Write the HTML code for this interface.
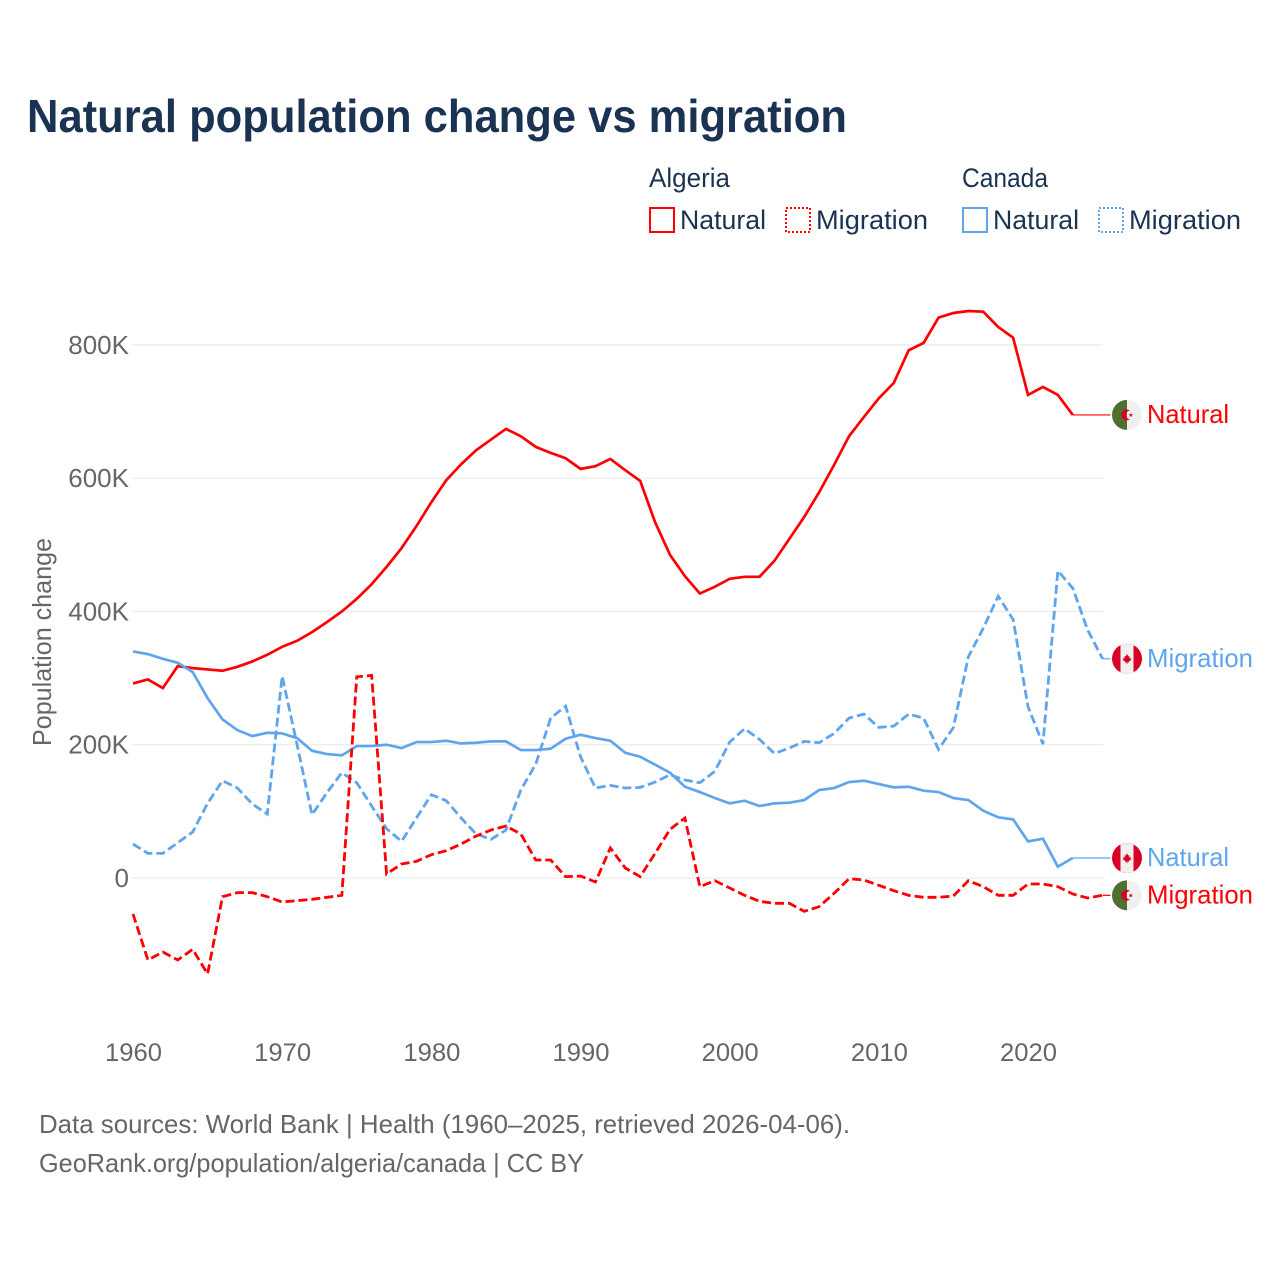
<!DOCTYPE html>
<html lang="en">
<head>
<meta charset="utf-8">
<title>Natural population change vs migration</title>
<style>
html,body{margin:0;padding:0;background:#fff;}
svg{display:block;font-family:"Liberation Sans",sans-serif;}
</style>
</head>
<body>
<svg id="chart" xmlns="http://www.w3.org/2000/svg" width="1280" height="1280" viewBox="0 0 1280 1280">
  <rect x="0" y="0" width="1280" height="1280" fill="#ffffff"/>
  <text x="27" y="132" font-size="46" font-weight="700" fill="#1a3352" textLength="820" lengthAdjust="spacingAndGlyphs">Natural population change vs migration</text>

  <g font-size="27" fill="#1a3352">
    <text x="649" y="187" textLength="81" lengthAdjust="spacingAndGlyphs">Algeria</text>
    <text x="962" y="187" textLength="86" lengthAdjust="spacingAndGlyphs">Canada</text>
    <g>
      <rect x="650" y="208" width="24" height="24" fill="none" stroke="#ff0000" stroke-width="2"/>
      <text x="680" y="229" textLength="86" lengthAdjust="spacingAndGlyphs">Natural</text>
    </g>
    <g>
      <rect x="786" y="208" width="24" height="24" fill="none" stroke="#ff0000" stroke-width="2" stroke-dasharray="2 2"/>
      <text x="816" y="229" textLength="112" lengthAdjust="spacingAndGlyphs">Migration</text>
    </g>
    <g>
      <rect x="963" y="208" width="24" height="24" fill="none" stroke="#5fa5ec" stroke-width="2"/>
      <text x="993" y="229" textLength="86" lengthAdjust="spacingAndGlyphs">Natural</text>
    </g>
    <g>
      <rect x="1099" y="208" width="24" height="24" fill="none" stroke="#5fa5ec" stroke-width="2" stroke-dasharray="2 2"/>
      <text x="1129" y="229" textLength="112" lengthAdjust="spacingAndGlyphs">Migration</text>
    </g>
  </g>

  <g id="grid"></g>
  <g id="yAxis"></g>
  <g id="xAxis"></g>
  <text transform="translate(51,642) rotate(-90)" text-anchor="middle" font-size="26" fill="#666666" textLength="208" lengthAdjust="spacingAndGlyphs">Population change</text>
  <g id="series"></g>
  <g id="ends"></g>

  <text x="39" y="1133" font-size="26" fill="#666666" textLength="811" lengthAdjust="spacingAndGlyphs">Data sources: World Bank | Health (1960–2025, retrieved 2026-04-06).</text>
  <text x="39" y="1172" font-size="26" fill="#666666" textLength="545" lengthAdjust="spacingAndGlyphs">GeoRank.org/population/algeria/canada | CC BY</text>
</svg>
<script>
// Values in thousands, one per year starting at 1960
const startYear = 1960;
const algeriaNatural = [292,298,285,318,315,313,311,317,325,335,347,356,369,384,400,419,441,467,495,528,564,597,621,642,658,674,663,647,638,630,614,618,629,612,596,534,485,453,427,437,449,452,452,476,509,542,579,620,663,692,720,743,792,803,841,848,851,850,827,811,725,737,725,695];
const algeriaMigration = [-54,-123,-111,-123,-107,-144,-28,-22,-22,-28,-36,-34,-32,-29,-26,302,304,6,21,25,35,41,51,63,72,78,66,27,27,2,3,-6,45,15,2,37,73,90,-13,-4,-15,-26,-35,-38,-38,-50,-43,-23,-1,-3,-11,-19,-26,-29,-29,-27,-4,-13,-26,-26,-9,-9,-13,-24,-30,-26];
const canadaNatural = [340,336,329,323,309,270,238,222,213,218,217,210,191,186,184,198,198,200,195,204,204,206,202,203,205,205,192,192,194,209,215,210,206,188,182,170,158,137,129,120,112,116,108,112,113,117,132,135,144,146,141,136,137,131,129,120,117,101,91,88,55,59,17,30];
const canadaMigration = [51,37,37,53,69,112,146,135,111,96,303,200,95,128,158,143,108,74,55,90,125,116,90,66,58,72,132,171,240,258,182,135,139,135,136,144,155,147,143,160,204,224,208,187,195,205,203,217,240,246,226,228,246,240,193,226,332,375,423,388,257,201,461,435,372,329];
const yTickValues = [0,200,400,600,800];
const yTickLabels = ["0","200K","400K","600K","800K"];
const xTickValues = [1960,1970,1980,1990,2000,2010,2020];
const xTickLabels = ["1960","1970","1980","1990","2000","2010","2020"];
const seriesNames = ["algeria-natural","canada-natural","canada-migration","algeria-migration"];
const seriesLabels = ["Natural","Natural","Migration","Migration"];

const RED = "#ff0000", BLUE = "#5fa5ec";
const NS = "http://www.w3.org/2000/svg";
const xScale = year => 133 + (year - 1960) * 14.917;
const yScale = v => 878 - v * 0.6663;

function make(tag, attrs, parent) {
  const el = document.createElementNS(NS, tag);
  for (const k in attrs) el.setAttribute(k, attrs[k]);
  parent.appendChild(el);
  return el;
}

const grid = document.getElementById("grid");
const yAxis = document.getElementById("yAxis");
const xAxis = document.getElementById("xAxis");
const seriesGroup = document.getElementById("series");
const ends = document.getElementById("ends");

yTickValues.forEach(function (v, i) {
  const line = make("line", {x1: 132, x2: 1103, y1: yScale(v), y2: yScale(v), stroke: "#ececec", "stroke-width": 1.3}, grid);
  
  
  const t = make("text", {x: 129, y: yScale(v) + 9, "text-anchor": "end", "font-size": 26, fill: "#666666"}, yAxis);
  t.textContent = yTickLabels[i];
  
  
});

xTickValues.forEach(function (v, i) {
  const t = make("text", {x: xScale(v) + 0.5, y: 1061, "text-anchor": "middle", "font-size": 25, fill: "#666666", textLength: 57, lengthAdjust: "spacingAndGlyphs"}, xAxis);
  t.textContent = xTickLabels[i];
  
  
});

function drawSeries(values, color, dashed, label, isAlgeria, nameIndex) {
  const d = values.map(function (v, i) {
    return (i ? "L" : "M") + xScale(startYear + i).toFixed(2) + " " + yScale(v).toFixed(2);
  }).join("");
  const path = make("path", {d: d, fill: "none", stroke: color, "stroke-width": dashed ? 2.8 : 2.7, "stroke-linejoin": "miter"}, seriesGroup);
  if (dashed) path.setAttribute("stroke-dasharray", "9 4");
  
  

  const lastX = xScale(startYear + values.length - 1);
  const lastY = yScale(values[values.length - 1]);
  const conn = make("line", {x1: lastX, x2: 1110.5, y1: lastY, y2: lastY, stroke: color, "stroke-width": 1.2}, ends);
  
  

  const g = make("g", {transform: "translate(1127," + lastY + ")"}, ends);
  
  
  if (isAlgeria) {
    make("circle", {r: 15, fill: "#f0f0f0"}, g);
    make("path", {d: "M0,-15A15,15 0 0 0 0,15Z", fill: "#4f6f2f"}, g);
    make("path", {d: "M3,-4.2A5.4,5.4 0 1 0 3,4.2A4.2,4.2 0 1 1 3,-4.2Z", fill: "#d80027"}, g);
    make("polygon", {points: "3.8,-2 4.4,-0.6 6,-0.6 4.8,0.4 5.2,2 3.8,1.1 2.4,2 2.8,0.4 1.6,-0.6 3.2,-0.6", fill: "#d80027"}, g);
  } else {
    make("circle", {r: 15, fill: "#d80027"}, g);
    make("path", {d: "M-6.5,-13.5A15,15 0 0 1 6.5,-13.5L6.5,13.5A15,15 0 0 1 -6.5,13.5Z", fill: "#f0f0f0"}, g);
    make("path", {transform: "scale(0.8)", d: "M0,-6L1.6,-3L3.2,-3.6L2.6,-0.4L5,-1.4L4.4,0.6L5.6,1.4L2.2,3.6L2.6,4.8L0.5,4.4L0.5,6.5L-0.5,6.5L-0.5,4.4L-2.6,4.8L-2.2,3.6L-5.6,1.4L-4.4,0.6L-5,-1.4L-2.6,-0.4L-3.2,-3.6L-1.6,-3Z", fill: "#d80027"}, g);
  }

  const t = make("text", {x: 1147, y: lastY + 8, "font-size": 26, fill: color, textLength: label === "Natural" ? 82 : 106, lengthAdjust: "spacingAndGlyphs"}, ends);
  t.textContent = label;
  
  
}

drawSeries(algeriaNatural, RED, false, seriesLabels[0], true, 0);
drawSeries(canadaNatural, BLUE, false, seriesLabels[1], false, 1);
drawSeries(canadaMigration, BLUE, true, seriesLabels[2], false, 2);
drawSeries(algeriaMigration, RED, true, seriesLabels[3], true, 3);
</script>
</body>
</html>
